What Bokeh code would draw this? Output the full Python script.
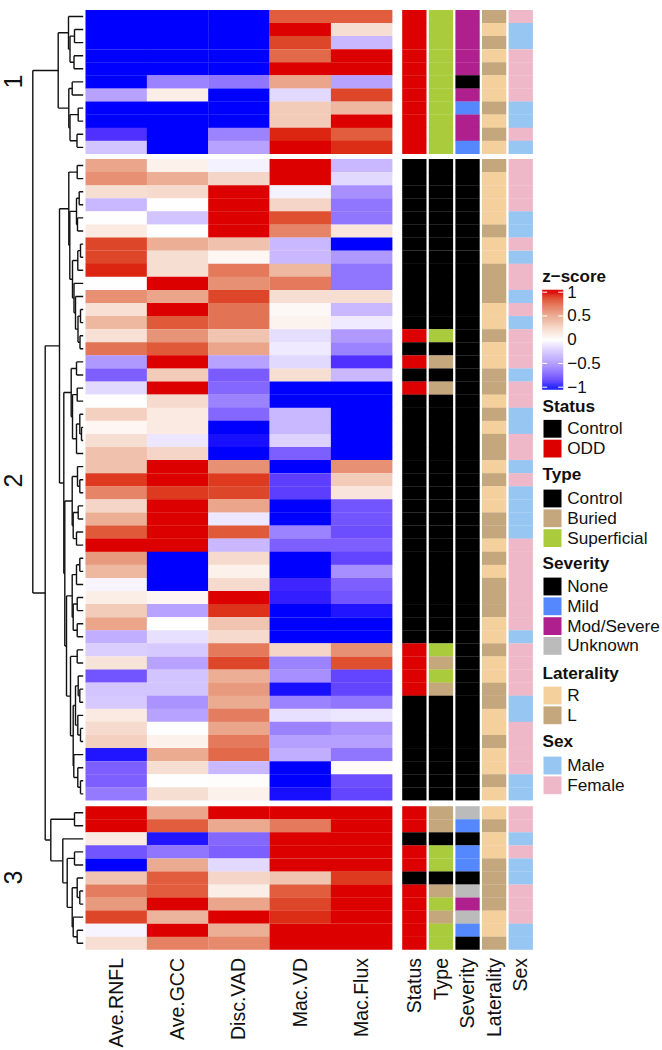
import math
from bokeh.embed import file_html
from bokeh.resources import INLINE
from bokeh.core.properties import value
from bokeh.models import ColumnDataSource, LinearColorMapper
from bokeh.plotting import figure

# ---------------- data ----------------
heat_columns = ["Ave.RNFL", "Ave.GCC", "Disc.VAD", "Mac.VD", "Mac.Flux"]
track_columns = ["Status", "Type", "Severity", "Laterality", "Sex"]
cluster_names = ["1", "2", "3"]

cluster_1_z = [
    [-1, -1, -1, .8, .8], [-1, -1, -1, 1, .2], [-1, -1, -1, .87, -.3], [-1, -1, -1, .75, 1],
    [-1, -1, -1, 1, 1], [-1, -.55, -.6, .5, -.4], [-.4, .1, -1, -.15, .87], [-1, -1, -1, .3, .4],
    [-1, -1, -1, .3, 1], [-.85, -1, -.55, .95, .8], [-.25, -1, -.4, 1, .93],
]
cluster_2_z = [
    [.5, .08, -.05, 1, -.3], [.6, .45, .25, 1, -.15], [.2, .22, 1, -.05, -.5], [-.3, 0, 1, .25, -.6],
    [0, -.25, 1, .85, -.6], [.12, 0, 1, .65, .15], [.87, .45, .35, -.3, -1], [.87, .2, .05, -.3, -.45],
    [.95, .2, .7, .4, -.6], [0, 1, .6, .7, -.6], [.6, .5, .87, .2, .2], [.18, 1, .72, .04, -.3],
    [.4, .82, .72, .07, -.08], [.18, .58, .33, -.13, -.45], [.72, .82, .5, -.08, -.55],
    [-.45, 1, -.4, -.15, -.85], [-.68, .3, -.7, .2, -.3], [-.15, 1, -.65, -1, -1], [0, .22, -.55, -1, -1],
    [.28, .12, -.65, -.3, -1], [.05, .12, -1, -.3, -1], [.2, -.1, -.95, -.18, -1], [.35, .25, -1, -.68, -1],
    [.35, 1, .6, -1, .6], [.9, 1, .9, -.8, .3], [.65, .9, .87, -.8, .15], [.25, 1, .5, -1, -.72],
    [.45, 1, -.1, -1, -.72], [.82, 1, .82, -.55, -.75], [1, 1, -.3, -.68, -.68], [.55, -1, .22, -1, -.78],
    [.4, -1, .08, -1, -.5], [-.04, -1, .22, -.88, -.68], [.1, .05, 1, -.9, -.72], [.3, -.4, .92, -1, -.93],
    [.5, 0, .33, -1, -1], [-.35, -.12, .22, -1, -1], [-.2, -.22, .7, .25, .6], [.17, -.4, .87, -.55, .85],
    [-.72, -.25, .45, -.5, -.78], [-.25, -.25, .55, -.95, -.78], [-.22, -.48, .47, -.55, -.6],
    [.12, -.4, .68, -.12, -.1], [.22, 0, .5, -.55, -.48], [.28, .08, .7, -.42, -.42],
    [-.93, .47, .75, -.35, -.6], [-.68, .2, -.3, -1, .03], [-.68, 0, .01, -1, -.75], [-.58, .2, .08, -.95, -.78],
]
cluster_3_z = [
    [1, .5, 1, 1, 1], [1, .8, .48, .7, 1], [.12, -.93, -.65, 1, 1], [-.72, -.6, -.68, 1, 1],
    [-1, .47, -.15, 1, 1], [.33, .8, .25, .33, .9], [.68, .8, .1, .8, 1], [.55, 1, .5, .87, 1],
    [.87, .42, 1, .93, 1], [-.04, 1, .45, 1, 1], [.2, .67, .63, 1, 1],
]

# annotation tracks, one letter per row
# Status C/O, Type C/B/S, Severity N/A(mild)/M/U, Laterality R/L, Sex M/F
status_tracks = ["OOOOOOOOOOO",
                 "CCCCCCCCCCCCC" "OCOCO" "CCCCCCCCCCCCCCCCCCC" "OOOO" "CCCCCCCC",
                 "OOCOOCOOOOO"]
type_tracks = ["SSSSSSSSSSS",
               "CCCCCCCCCCCCC" "SCBCB" "CCCCCCCCCCCCCCCCCCC" "SBSB" "CCCCCCCC",
               "BBCSSCBSBSS"]
severity_tracks = ["MMMMMNMAMMA", "NNNNNNNNNNNNNNNNNNNNNNNNNNNNNNNNNNNNNNNNNNNNNNNNN", "UANAANUMUAN"]
laterality_tracks = ["LRLRLRRLRLR",
                     "LRRRRLRRLLLRRLRRLLRLRLLRLRRLLRLRLLLRRLRRLLRRLRRLR",
                     "RLRRLLLLRRL"]
sex_tracks = ["FMMFFFFMMFM",
              "FFFFMMFMFFMFMFFFMFFMMFFMFMMMMFFFFFFFMFFFFMMFFFFMM",
              "FFMFMMFFFMM"]
track_rows = [status_tracks, type_tracks, severity_tracks, laterality_tracks, sex_tracks]

track_colors = [
    {"C": "#000000", "O": "#DD0000"},
    {"C": "#000000", "B": "#C4A77D", "S": "#A9CB3C"},
    {"N": "#000000", "A": "#5588FF", "M": "#B01F8E", "U": "#BBBBBB"},
    {"R": "#F4D09C", "L": "#C4A77D"},
    {"M": "#97C6F3", "F": "#EEB8C9"},
]

legend_groups = [
    ("Status", [("Control", "#000000"), ("ODD", "#DD0000")]),
    ("Type", [("Control", "#000000"), ("Buried", "#C4A77D"), ("Superficial", "#A9CB3C")]),
    ("Severity", [("None", "#000000"), ("Mild", "#5588FF"), ("Mod/Severe", "#B01F8E"), ("Unknown", "#BBBBBB")]),
    ("Laterality", [("R", "#F4D09C"), ("L", "#C4A77D")]),
    ("Sex", [("Male", "#97C6F3"), ("Female", "#EEB8C9")]),
]
colorbar_ticks = [1, 0.5, 0, -0.5, -1]
colorbar_labels = ["1", "0.5", "0", "\u22120.5", "\u22121"]

# dendrograms: (merge height, upper child, lower child); ints are rows within the cluster
tree_1 = (25, (14.7, 0, (13.2, (8.7, 1, 2), (9.2, 3, 4))),
          (14.4, (11, 5, 6), (13.2, (5, 7, 8), (6.2, 9, 10))))
tree_2 = (23.7,
          (14.4, (6, 0, 1),
           (13.4, (6.7, (4, 2, 3), (5.7, 4, 5)),
            (10.7, (5.4, (2.7, 6, 7), 8),
             (9.2, 9, (7.7, 10, (5.2, (2.7, 11, 12), (3.2, 13, 14))))))),
          (19.4,
           (12, (6.7, 15, 16),
            (10.7, (6, 17, 18), (6.7, (3.4, 19, (1.7, 20, 21)), 22))),
           (18.4,
            (11, (5.7, 23, (3.4, 24, 25)), (10, (5, 26, 27), (6.7, 28, 29))),
            (16.7,
             (11, (6.7, (3.4, 30, 31), 32), (10, (6, 33, 34), (6, 35, 36))),
             (12.7, (6, 37, 38),
              (10, (7.7, (5, 39, (3.4, 40, 41)), (5.4, 42, (2.7, 43, 44))),
               (9.4, 45, (5.4, 46, (2.7, 47, 48)))))))))
tree_3 = (32.4, (8.7, 0, 1),
          (20.4, 2, (16, (8.7, 3, 4),
                     (11, (6, 5, (3.4, 6, 7)), (10, 8, (6, 9, 10))))))
top_merge_heights = [38, 50.4]   # cluster 2+3, then cluster 1 + the rest

# ---------------- layout (page pixels) ----------------
W, H = 662, 1050
panel_tops = [9.4, 158.5, 805.7]
row_heights = [13.09, 13.09, 13.05]
heat_left, heat_pitch = 85.0, 61.35
track_left, track_pitch, track_w = 401.7, 26.6, 24.3
leaf_x = 82.7
FONT = value("Liberation Sans")


def hex_rgb(c):
    return [int(c[i:i + 2], 16) for i in (1, 3, 5)]


def ramp(stops, n):
    out = []
    for i in range(n):
        t = -1 + 2 * i / (n - 1)
        for (t0, c0), (t1, c1) in zip(stops, stops[1:]):
            if t <= t1:
                f = (t - t0) / (t1 - t0)
                out.append("#%02X%02X%02X" % tuple(round(a + (b - a) * f)
                                                   for a, b in zip(hex_rgb(c0), hex_rgb(c1))))
                break
    return out


color_stops = [(-1, "#0000FF"), (-.85, "#5030FF"), (-.7, "#7A5CFF"), (-.5, "#A78FFF"), (-.3, "#C9B8FF"),
               (-.12, "#E8E0FF"), (0, "#FFFFFF"), (.12, "#FAEAE2"), (.25, "#F5D6C8"), (.35, "#F0C1AC"),
               (.5, "#EAA68C"), (.7, "#E47A5C"), (.85, "#DF5030"), (.95, "#DC2812"), (1, "#DD0000")]
palette = ramp(color_stops, 256)
mapper = LinearColorMapper(palette=palette, low=-1, high=1)

p = figure(width=W, height=H, x_range=(0, W), y_range=(H, 0), toolbar_location=None,
           output_backend="svg", min_border=0, outline_line_color=None)
p.axis.visible = False
p.grid.visible = False
p.background_fill_color = "white"
p.border_fill_color = "white"

# heatmap
heat = dict(l=[], r=[], t=[], b=[], z=[])
for top, rh, rows in zip(panel_tops, row_heights, [cluster_1_z, cluster_2_z, cluster_3_z]):
    for i, row in enumerate(rows):
        for j, v in enumerate(row):
            heat["l"].append(heat_left + j * heat_pitch)
            heat["r"].append(heat_left + (j + 1) * heat_pitch + .15)
            heat["t"].append(top + i * rh)
            heat["b"].append(top + (i + 1) * rh + (.2 if i < len(rows) - 1 else 0))
            heat["z"].append(v)
p.quad(left="l", right="r", top="t", bottom="b", source=ColumnDataSource(heat),
       fill_color={"field": "z", "transform": mapper}, line_color=None)

# annotation tracks
ann = dict(l=[], r=[], t=[], b=[], c=[])
for j, tracks in enumerate(track_rows):
    for top, rh, codes in zip(panel_tops, row_heights, tracks):
        for i, code in enumerate(codes):
            ann["l"].append(track_left + j * track_pitch)
            ann["r"].append(track_left + j * track_pitch + track_w)
            ann["t"].append(top + i * rh)
            ann["b"].append(top + (i + 1) * rh + (.2 if i < len(codes) - 1 else 0))
            ann["c"].append(track_colors[j][code])
p.quad(left="l", right="r", top="t", bottom="b", source=ColumnDataSource(ann),
       fill_color="c", line_color=None)

# dendrogram
sx0, sx1, sy0, sy1 = [], [], [], []


def add_seg(a, b, c, d):
    sx0.append(a); sy0.append(b); sx1.append(c); sy1.append(d)


def walk(node, top, rh):
    if isinstance(node, int):
        return leaf_x, top + (node + .5) * rh
    h, a, b = node
    x = leaf_x - h
    xa, ya = walk(a, top, rh)
    xb, yb = walk(b, top, rh)
    add_seg(x, ya, xa, ya)
    add_seg(x, yb, xb, yb)
    add_seg(x, ya, x, yb)
    return x, (ya + yb) / 2


def join(h, a, b):
    x = leaf_x - h
    add_seg(x, a[1], a[0], a[1])
    add_seg(x, b[1], b[0], b[1])
    add_seg(x, a[1], x, b[1])
    return x, (a[1] + b[1]) / 2


root_1 = walk(tree_1, panel_tops[0], row_heights[0])
root_2 = walk(tree_2, panel_tops[1], row_heights[1])
root_3 = walk(tree_3, panel_tops[2], row_heights[2])
rest = join(top_merge_heights[0], root_2, root_3)
join(top_merge_heights[1], root_1, rest)
p.segment(sx0, sy0, sx1, sy1, line_color="#111111", line_width=1.4)

# column labels
lab_y = 957.5
p.text([heat_left + (i + .5) * heat_pitch - .5 for i in range(5)], [lab_y] * 5, text=heat_columns,
       angle=math.pi / 2, text_align="right", text_baseline="middle", text_font=FONT,
       text_font_size="19.5px", text_color="#111111")
p.text([track_left + (i + .5) * track_pitch - 1.5 for i in range(5)], [lab_y] * 5, text=track_columns,
       angle=math.pi / 2, text_align="right", text_baseline="middle", text_font=FONT,
       text_font_size="19.5px", text_color="#111111")

# cluster labels
p.text([12, 12, 12], [81, 480, 877], text=cluster_names, angle=math.pi / 2, text_align="center",
       text_baseline="middle", text_font=FONT, text_font_size="25px", text_color="#111111")

# colour bar
bar_left, bar_right = 541.7, 562.7
bar_px = 47.5
bar_mid = 339.2
bar_vals = [1.05 - i * 2.1 / 100 for i in range(100)]
bar_src = ColumnDataSource(dict(z=bar_vals,
                                t=[bar_mid - v * bar_px - .1 for v in bar_vals],
                                b=[bar_mid - (v - .021) * bar_px + .1 for v in bar_vals]))
p.quad(left=bar_left, right=bar_right, top="t", bottom="b", source=bar_src,
       fill_color={"field": "z", "transform": mapper}, line_color=None)
tick_y = [bar_mid - t * bar_px for t in colorbar_ticks]
p.segment([bar_left] * 5, tick_y, [bar_left + 5] * 5, tick_y, line_color="white", line_width=1)
p.segment([bar_right - 5] * 5, tick_y, [bar_right] * 5, tick_y, line_color="white", line_width=1)
p.text([566.7] * 5, [y - .5 for y in tick_y], text=colorbar_labels, text_baseline="middle", text_font=FONT,
       text_font_size="17px", text_color="#111111")
p.text([541.7], [276], text=["z\u2212score"], text_baseline="middle", text_font=FONT,
       text_font_style="bold", text_font_size="17px", text_color="#111111")

# legends
legend_title_y = [405.2, 473.8, 562.8, 672.2, 740.5]
legend_first_y = [428.3, 498, 586, 695, 765]
for (title, items), ty, fy in zip(legend_groups, legend_title_y, legend_first_y):
    p.text([542], [ty], text=[title], text_baseline="middle", text_font=FONT, text_font_style="bold",
           text_font_size="17.2px", text_color="#111111")
    ys = [fy + 19.8 * i for i in range(len(items))]
    p.quad(left=543, right=561, top=[y - 8.9 for y in ys], bottom=[y + 8.9 for y in ys],
           fill_color=[c for _, c in items], line_color=None)
    p.text([566.7] * len(items), [y - .5 for y in ys], text=[n for n, _ in items], text_baseline="middle",
           text_font=FONT, text_font_size="17.2px", text_color="#111111")

open("out.html", "w").write(file_html(p, INLINE))
